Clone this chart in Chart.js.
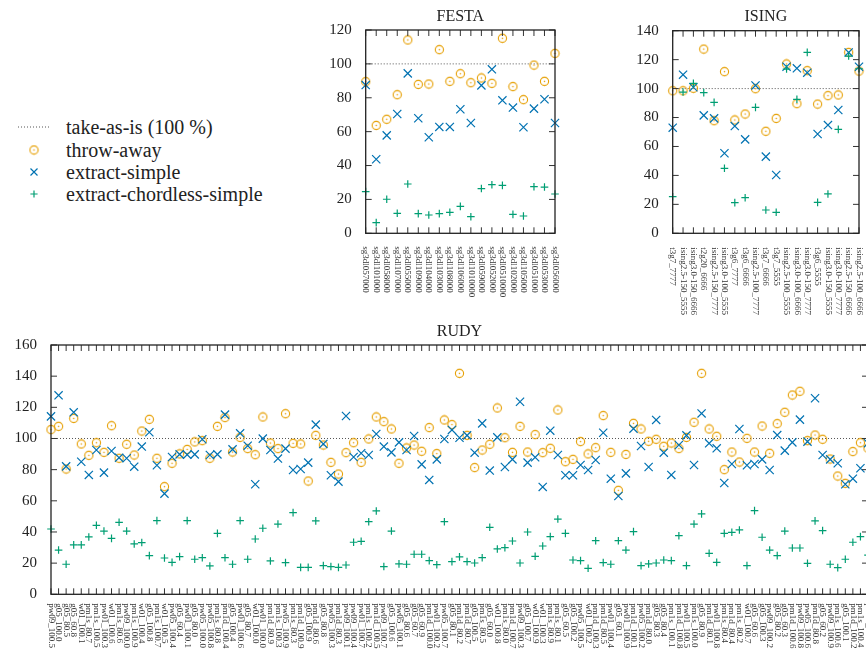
<!DOCTYPE html>
<html>
<head>
<meta charset="utf-8">
<script src="https://cdn.jsdelivr.net/npm/chart.js@4.4.1/dist/chart.umd.min.js"></script>
<style>
  html, body { margin: 0; padding: 0; background: #fff; overflow: hidden; }
  body { width: 866px; height: 657px; position: relative; }
  canvas { position: absolute; }
  .leg { position: absolute; left: 0; height: 22px; font: 20px "Liberation Serif", serif; color: #222; }
  .leg canvas { position: absolute; left: 14px; top: 0; }
  .leg span { position: absolute; left: 66px; top: 0; line-height: 22px; white-space: nowrap; }
</style>
</head>
<body>
<canvas id="festa" width="270" height="320" style="left:300px;top:0"></canvas>
<canvas id="ising" width="256" height="320" style="left:610px;top:0"></canvas>
<canvas id="rudy" width="880" height="337" style="left:0;top:320px"></canvas>
<div id="legend"></div>
<script>
const ORANGE = '#E69F00';
const BLUE = '#0072B2';
const GREEN = '#009E73';
const TAKE_AS_IS = 100;

const seriesNames = ['take-as-is (100 %)', 'throw-away', 'extract-simple', 'extract-chordless-simple'];

// FESTA
const festaLabels = ['sg3dl057000', 'sg3dl101000', 'sg3dl058000', 'sg3dl107000', 'sg3dl055000',
  'sg3dl109000', 'sg3dl104000', 'sg3dl103000', 'sg3dl108000', 'sg3dl106000', 'sg3dl1010000',
  'sg3dl059000', 'sg3dl052000', 'sg3dl0510000', 'sg3dl102000', 'sg3dl105000', 'sg3dl051000',
  'sg3dl053000', 'sg3dl056000'];
const festaThrow = [89.5, 63.7, 67.3, 81.8, 114.1, 87.9, 88.1, 108.4, 89.7, 94.2, 88.9, 91.7, 88.5, 115.1, 86.6, 78.9, 99.3, 89.7, 106.2];
const festaSimple = [87.5, 43.7, 57.8, 70.4, 94.4, 67.9, 56.7, 62.8, 62.8, 73.2, 65.1, 87.3, 96.8, 78.5, 74.2, 62.6, 73.6, 79.1, 65.1];
const festaChordless = [24.6, 6.3, 20.1, 11.8, 29.1, 11.6, 10.8, 11.6, 12.4, 15.9, 9.8, 26.4, 28.7, 28.3, 11.2, 10.2, 27.5, 27.3, 23.2];

// ISING
const isingLabels = ['t3g7_7777', 'ising2.5-150_5555', 'ising3.0-150_6666', 't2g20_6666',
  'ising2.5-150_7777', 'ising3.0-100_5555', 't3g6_7777', 't3g6_6666', 'ising2.5-100_7777',
  't3g7_6666', 't3g7_5555', 'ising2.5-100_5555', 'ising3.0-100_6666', 'ising3.0-150_7777',
  't3g6_5555', 'ising3.0-150_5555', 'ising3.0-100_7777', 'ising2.5-150_6666', 'ising2.5-100_6666'];
const isingThrow = [98.5, 98.5, 100.2, 127.3, 77.8, 111.7, 78.3, 82.4, 99.9, 70.5, 79.4, 117.0, 89.6, 112.4, 89.3, 95.1, 95.6, 125.0, 112.1];
const isingSimple = [73.0, 109.6, 100.9, 81.5, 79.4, 55.3, 74.1, 64.9, 102.2, 53.0, 40.3, 115.1, 114.0, 111.0, 68.6, 74.8, 85.2, 125.0, 115.1];
const isingChordless = [25.3, 97.6, 103.6, 97.2, 90.5, 44.9, 21.2, 24.6, 87.0, 16.1, 14.5, 113.5, 92.6, 125.0, 21.4, 27.2, 71.8, 122.5, 113.7];

// RUDY
const rudyLabels = ['pw09_100.5', 'g05_100.0', 'g05_80.5', 'g05_60.8', 'w01_100.1', 'pm1s_80.7',
  'pm1s_100.5', 'pw01_100.3', 'w01_100.6', 'pm1s_80.6', 'pw09_100.0', 'pm1s_100.9', 'w01_100.4',
  'g05_100.8', 'pm1s_100.7', 'w01_100.5', 'pw05_100.4', 'g05_60.4', 'pw01_100.1', 'g05_80.0',
  'pw05_100.0', 'pw05_100.8', 'pm1s_80.8', 'pm1d_100.4', 'g05_100.4', 'pw01_100.6', 'g05_80.7',
  'w01_100.0', 'pw01_100.0', 'pm1d_80.9', 'pm1s_100.3', 'pw05_100.9', 'pm1s_80.3', 'pm1d_100.9',
  'g05_100.9', 'pm1d_80.6', 'g05_80.8', 'pw05_100.3', 'pm1d_80.3', 'pw09_100.1', 'pw09_100.4',
  'pw01_100.7', 'pm1s_100.2', 'pm1d_100.5', 'pw09_100.7', 'g05_100.6', 'pw05_100.1', 'g05_80.6',
  'g05_60.7', 'g05_60.9', 'pm1d_100.0', 'pw01_100.2', 'pw05_100.7', 'g05_80.1', 'pm1d_80.2',
  'pm1d_80.7', 'g05_100.5', 'pm1s_80.5', 'g05_60.0', 'w01_100.8', 'pm1s_80.0', 'pm1d_100.7',
  'pw09_100.3', 'g05_100.7', 'w01_100.9', 'w01_100.3', 'pm1s_80.9', 'pm1s_80.1', 'g05_60.5',
  'g05_100.2', 'pw05_100.5', 'w01_100.2', 'pm1d_100.3', 'pm1d_80.5', 'pw01_100.4', 'g05_60.1',
  'pw01_100.9', 'pm1d_100.1', 'pw05_100.2', 'pm1d_80.0', 'g05_80.3', 'g05_80.4', 'pm1s_100.1',
  'pm1d_100.8', 'pw01_100.5', 'pm1s_100.0', 'g05_80.9', 'pm1d_80.1', 'pw01_100.8', 'pm1s_80.4',
  'pm1d_80.4', 'pm1s_80.2', 'w01_100.7', 'g05_60.6', 'g05_100.3', 'pw09_100.2', 'g05_80.2',
  'g05_60.3', 'pm1d_100.6', 'pw09_100.8', 'pw05_100.6', 'pm1d_80.8', 'g05_60.2', 'pw09_100.9',
  'pm1s_100.6', 'g05_100.1', 'pm1d_100.2', 'pm1s_100.4', 'pw09_100.6'];
const rudyThrow = [105.7, 107.8, 80.4, 112.9, 96.5, 89.2, 97.3, 91.1, 108.2, 87.3,
  96.3, 89.4, 104.8, 112.3, 87.3, 69.1, 84.1, 90.1, 93.0, 97.8,
  98.6, 87.3, 107.8, 113.4, 91.3, 100.7, 93.5, 89.6, 113.8, 97.1,
  93.5, 115.9, 96.9, 96.5, 72.7, 102.0, 95.8, 84.7, 77.2, 90.9,
  97.3, 84.7, 99.7, 113.8, 110.8, 106.1, 84.1, 93.9, 95.8, 91.8,
  107.0, 90.3, 111.9, 108.9, 141.8, 102.0, 81.3, 92.6, 96.3, 119.6,
  100.5, 91.1, 107.8, 91.3, 102.5, 90.9, 93.7, 118.3, 85.1, 86.6,
  98.0, 90.1, 94.1, 114.7, 91.1, 66.7, 89.8, 109.7, 106.1, 98.2,
  99.5, 95.0, 97.1, 93.5, 100.7, 110.4, 141.8, 106.1, 101.4, 80.0,
  91.3, 84.9, 100.1, 91.3, 108.0, 90.5, 109.5, 116.8, 127.9, 130.3,
  98.6, 102.2, 99.5, 86.8, 75.9, 71.2, 91.6, 97.3, 93.7];
const rudySimple = [114.2, 127.7, 82.1, 116.8, 85.1, 76.6, 92.6, 78.1, 92.0, 87.7,
  87.3, 81.9, 94.8, 104.0, 82.8, 64.6, 88.1, 89.8, 89.6, 89.8,
  99.5, 89.4, 89.8, 115.3, 93.0, 103.3, 95.4, 70.6, 99.9, 92.6,
  87.1, 93.5, 79.8, 80.4, 84.5, 108.9, 96.5, 76.4, 72.3, 114.4,
  88.1, 90.5, 89.4, 102.9, 94.8, 91.1, 97.5, 92.6, 101.6, 83.4,
  73.4, 86.6, 99.7, 105.5, 100.5, 102.0, 90.9, 109.7, 79.4, 100.7,
  81.7, 86.6, 123.6, 84.5, 87.9, 68.9, 105.0, 89.4, 76.4, 76.4,
  83.0, 79.8, 86.2, 103.7, 74.2, 63.1, 77.6, 106.3, 95.2, 81.7,
  111.9, 90.9, 76.6, 95.8, 102.0, 83.0, 116.1, 96.9, 93.7, 71.4,
  83.6, 106.1, 82.8, 83.6, 86.6, 79.8, 102.2, 92.2, 97.5, 112.1,
  98.0, 125.8, 89.4, 86.6, 84.1, 70.6, 74.2, 80.9, 97.0];
const rudyChordless = [41.9, 28.4, 19.3, 31.7, 31.7, 36.8, 44.3, 40.6, 35.9, 46.2,
  40.6, 32.3, 33.2, 24.8, 47.3, 23.3, 20.5, 24.2, 47.3, 22.5,
  23.5, 18.2, 39.1, 23.5, 19.3, 47.3, 22.5, 35.5, 42.4, 21.4,
  45.1, 20.3, 52.4, 17.3, 17.3, 47.1, 18.4, 17.8, 17.3, 18.8,
  33.4, 34.0, 46.6, 53.5, 17.8, 40.6, 19.5, 19.3, 25.7, 25.7,
  21.6, 19.0, 46.6, 21.0, 24.0, 21.0, 20.1, 23.5, 43.0, 29.1,
  29.9, 34.2, 20.1, 40.0, 24.4, 31.0, 37.0, 48.3, 39.1, 22.0,
  21.6, 16.7, 34.4, 20.3, 19.3, 34.4, 28.4, 40.2, 18.4, 19.5,
  20.1, 22.0, 21.6, 37.6, 18.4, 45.1, 51.6, 26.3, 20.5, 39.1,
  39.8, 41.3, 18.4, 53.7, 36.6, 28.4, 24.8, 40.6, 29.7, 29.7,
  19.9, 47.1, 40.9, 19.3, 17.1, 22.5, 33.4, 37.0, 25.2];

const SERIF = '"Liberation Serif", "Times New Roman", serif';

function ringMarker(color) {
  const c = document.createElement('canvas');
  c.width = 11; c.height = 11;
  const g = c.getContext('2d');
  g.strokeStyle = color;
  g.lineWidth = 1.1;
  g.beginPath(); g.arc(5.5, 5.5, 4.1, 0, Math.PI * 2); g.stroke();
  g.fillStyle = color;
  g.beginPath(); g.arc(5.5, 5.5, 0.8, 0, Math.PI * 2); g.fill();
  return c;
}
const ring = ringMarker(ORANGE);

// frame, inward ticks, 100 % line and rotated category labels
const framePlugin = {
  id: 'frame',
  beforeDatasetsDraw(chart) {
    const {ctx, chartArea: a} = chart;
    const yy = chart.scales.y.getPixelForValue(TAKE_AS_IS);
    ctx.save();
    ctx.strokeStyle = '#555';
    ctx.lineWidth = 1;
    ctx.setLineDash([1, 2]);
    ctx.beginPath();
    ctx.moveTo(a.left, yy);
    ctx.lineTo(a.right, yy);
    ctx.stroke();
    ctx.restore();
  },
  afterDraw(chart, args, opts) {
    const {ctx, chartArea: a} = chart;
    const x = chart.scales.x, y = chart.scales.y;
    const labels = chart.data.labels;
    ctx.save();
    ctx.strokeStyle = '#333';
    ctx.lineWidth = 1;
    ctx.beginPath();
    labels.forEach((lab, i) => {
      const px = x.getPixelForValue(i);
      ctx.moveTo(px, a.top); ctx.lineTo(px, a.top + 6);
      ctx.moveTo(px, a.bottom); ctx.lineTo(px, a.bottom - 6);
    });
    y.ticks.forEach((t) => {
      const py = y.getPixelForValue(t.value);
      ctx.moveTo(a.left, py); ctx.lineTo(a.left + 6, py);
      ctx.moveTo(a.right, py); ctx.lineTo(a.right - 6, py);
    });
    ctx.stroke();
    ctx.strokeStyle = '#222';
    ctx.lineWidth = 1.3;
    ctx.strokeRect(a.left, a.top, a.right - a.left, a.bottom - a.top);

    ctx.fillStyle = '#333';
    ctx.font = '9px ' + SERIF;
    ctx.textAlign = 'left';
    ctx.textBaseline = 'middle';
    labels.forEach((lab, i) => {
      const px = x.getPixelForValue(i);
      ctx.save();
      ctx.translate(px, a.bottom + opts.labelGap);
      ctx.rotate(Math.PI / 2);
      ctx.fillText(lab, 0, 0);
      ctx.restore();
    });
    ctx.restore();
  }
};

function makePanel(id, title, labels, throwAway, simple, chordless, yMax, geo) {
  return new Chart(document.getElementById(id), {
    type: 'line',
    data: {
      labels: labels,
      datasets: [
        {
          label: seriesNames[1], data: throwAway, showLine: false,
          pointStyle: ring, pointRadius: 4.5, order: 3, clip: false
        },
        {
          label: seriesNames[2], data: simple, showLine: false,
          pointStyle: 'crossRot', pointRadius: 5.8, pointBorderWidth: 1.2,
          borderColor: BLUE, backgroundColor: BLUE, order: 2, clip: false
        },
        {
          label: seriesNames[3], data: chordless, showLine: false,
          pointStyle: 'cross', pointRadius: 3.8, pointBorderWidth: 1.2,
          borderColor: GREEN, backgroundColor: GREEN, order: 1, clip: false
        }
      ]
    },
    options: {
      responsive: false,
      animation: false,
      layout: { padding: { left: 0, right: geo.padRight, top: 0, bottom: 0 } },
      scales: {
        x: {
          grid: { display: false, drawTicks: false },
          border: { display: false },
          ticks: { display: false },
          afterFit: (scale) => { scale.height = geo.xHeight; }
        },
        y: {
          min: 0,
          max: yMax,
          grid: { display: false, drawTicks: false },
          border: { display: false },
          ticks: {
            stepSize: 20,
            padding: 14,
            color: '#222',
            font: { family: SERIF, size: 15 }
          },
          afterFit: (scale) => { scale.width = geo.yWidth; }
        }
      },
      plugins: {
        legend: { display: false },
        tooltip: { enabled: false },
        title: {
          display: true,
          text: title,
          fullSize: false,
          color: '#222',
          font: { family: SERIF, size: 16, weight: 'normal' },
          padding: { top: geo.titleTop, bottom: geo.titleBottom }
        },
        frame: { labelGap: geo.labelGap }
      }
    },
    plugins: [framePlugin]
  });
}

makePanel('festa', 'FESTA', festaLabels, festaThrow, festaSimple, festaChordless, 120,
  { yWidth: 65.7, padRight: 15, xHeight: 86.7, titleTop: 7.1, titleBottom: 3.7, labelGap: 13 });
makePanel('ising', 'ISING', isingLabels, isingThrow, isingSimple, isingChordless, 140,
  { yWidth: 62.7, padRight: 5.3, xHeight: 86.7, titleTop: 7.1, titleBottom: 4.4, labelGap: 14 });
makePanel('rudy', 'RUDY', rudyLabels, rudyThrow, rudySimple, rudyChordless, 160,
  { yWidth: 51, padRight: 12, xHeight: 62.7, titleTop: 2.1, titleBottom: 3.7, labelGap: 9 });

// legend at the left
const legend = document.getElementById('legend');
const rowsY = [126.7, 150, 171.7, 194];
seriesNames.forEach((name, k) => {
  const row = document.createElement('div');
  row.className = 'leg';
  row.style.top = (rowsY[k] - 11) + 'px';
  const c = document.createElement('canvas');
  c.width = 40; c.height = 22;
  const g = c.getContext('2d');
  const cx = 20, cy = 11;
  if (k === 0) {
    g.strokeStyle = '#555'; g.lineWidth = 1; g.setLineDash([1, 2]);
    g.beginPath(); g.moveTo(4, cy); g.lineTo(36, cy); g.stroke();
  } else if (k === 1) {
    g.drawImage(ring, cx - 5.5, cy - 5.5);
  } else if (k === 2) {
    g.strokeStyle = BLUE; g.lineWidth = 1.2;
    g.beginPath();
    g.moveTo(cx - 3.5, cy - 3.5); g.lineTo(cx + 3.5, cy + 3.5);
    g.moveTo(cx - 3.5, cy + 3.5); g.lineTo(cx + 3.5, cy - 3.5);
    g.stroke();
  } else {
    g.strokeStyle = GREEN; g.lineWidth = 1.2;
    g.beginPath();
    g.moveTo(cx - 3.6, cy); g.lineTo(cx + 3.6, cy);
    g.moveTo(cx, cy - 3.6); g.lineTo(cx, cy + 3.6);
    g.stroke();
  }
  row.appendChild(c);
  const s = document.createElement('span');
  s.textContent = name;
  row.appendChild(s);
  legend.appendChild(row);
});
</script>
</body>
</html>
